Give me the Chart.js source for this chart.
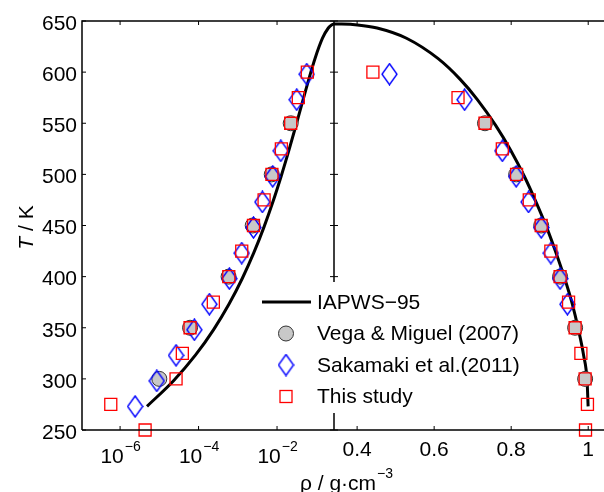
<!DOCTYPE html>
<html lang="en">
<head>
<meta charset="UTF-8" />
<title>Water saturation curve</title>
<script src="https://cdn.jsdelivr.net/npm/chart.js"></script>
<style>
  * { box-sizing: border-box; }
  body { margin: 0; background: #fff; }
  #wrap { position: relative; width: 604px; height: 492px; }
</style>
</head>
<body>
<div id="wrap"><canvas id="chart"></canvas></div>
<script>
// IAPWS-95 saturation curve, T in K, densities in g/cm3
const iapwsT = [273.16, 298.15, 323.15, 348.15, 373.15, 398.15, 423.15, 448.15, 473.15, 498.15,
  523.15, 548.15, 573.15, 593.15, 613.15, 633.15, 643.15, 646.15, 647.0, 647.096];
const iapwsVapor = [4.854e-6, 2.307e-5, 8.315e-5, 2.422e-4, 5.981e-4, 1.2985e-3, 2.548e-3, 4.617e-3, 7.861e-3, 1.274e-2,
  1.995e-2, 3.050e-2, 4.615e-2, 6.456e-2, 9.259e-2, 0.1440, 0.2030, 0.245, 0.285, 0.322];
const iapwsLiquid = [0.99979, 0.99705, 0.98803, 0.97466, 0.95878, 0.93897, 0.91658, 0.89206, 0.86431, 0.83403,
  0.79936, 0.75930, 0.71225, 0.66711, 0.61050, 0.52826, 0.45187, 0.401, 0.3595, 0.322];

// Vega & Miguel (2007)
const vegaT = [300, 350, 400, 450, 500, 550];
const vegaVapor = [1.0e-5, 6.07e-5, 5.82e-4, 2.40e-3, 7.33e-3, 2.23e-2];
const vegaLiquid = [0.992, 0.966, 0.927, 0.878, 0.813, 0.732];

// Sakamaki et al. (2011)
const sakaVaporT = [273, 298, 323, 348, 373, 398, 423, 448, 473, 498, 523, 573, 598];
const sakaVapor = [2.41e-6, 8.61e-6, 2.67e-5, 7.82e-5, 1.88e-4, 6.10e-4, 1.26e-3, 2.51e-3, 4.22e-3, 7.76e-3, 1.245e-2, 3.18e-2, 5.71e-2];
const sakaLiquidT = [373, 398, 423, 448, 473, 498, 523, 573, 598];
const sakaLiquid = [0.946, 0.927, 0.903, 0.878, 0.845, 0.813, 0.777, 0.679, 0.484];

// This study
const thisT = [250, 275, 300, 325, 350, 375, 400, 425, 450, 475, 500, 525, 550, 575, 600];
const thisVapor = [4.34e-6, 5.79e-7, 2.67e-5, 3.86e-5, 6.07e-5, 2.38e-4, 5.89e-4, 1.26e-3, 2.51e-3, 4.68e-3, 7.41e-3, 1.29e-2, 2.23e-2, 3.49e-2, 5.92e-2];
const thisLiquid = [0.993, 0.998, 0.992, 0.981, 0.966, 0.949, 0.927, 0.903, 0.878, 0.847, 0.814, 0.777, 0.732, 0.662, 0.441];

const yTicks = [250, 300, 350, 400, 450, 500, 550, 600, 650];
const logTickExps = [-6, -4, -2];
const linTicks = [0.4, 0.6, 0.8, 1];
const legendLabels = ['IAPWS\u221295', 'Vega & Miguel (2007)', 'Sakamaki et al.(2011)', 'This study'];

const FONT = '"Liberation Sans", Arial, Helvetica, sans-serif';
Chart.defaults.font.family = FONT;
Chart.defaults.font.size = 21;
Chart.defaults.color = '#000';

const pts = (xs, ts) => xs.map((x, i) => ({ x: x, y: ts[i] }));

// tall diamond marker
const diamond = document.createElement('canvas');
diamond.width = 17; diamond.height = 23;
(function () {
  const c = diamond.getContext('2d');
  c.strokeStyle = '#0000ff';
  c.lineWidth = 1.4;
  c.beginPath();
  c.moveTo(8.5, 1); c.lineTo(16, 11.5); c.lineTo(8.5, 22); c.lineTo(1, 11.5); c.closePath();
  c.stroke();
})();

const circleStyle = { pointStyle: 'circle', pointRadius: 7.5, backgroundColor: '#c8c8c8', borderColor: '#333', borderWidth: 1, clip: false, showLine: false, order: 3 };
const diamondStyle = { pointStyle: diamond, pointRadius: 10, borderColor: '#0000ff', clip: false, showLine: false, order: 2 };
const squareStyle = { pointStyle: 'rect', pointRadius: 8.5, backgroundColor: 'rgba(0,0,0,0)', borderColor: '#ff0000', borderWidth: 1.3, clip: false, showLine: false, order: 1 };
const lineStyle = { showLine: true, borderColor: '#000', borderWidth: 3, pointRadius: 0, cubicInterpolationMode: 'monotone', order: 4 };

const frame = {
  id: 'frame',
  afterDatasetsDraw(chart) {
    const { ctx, chartArea: a, scales } = chart;
    const xl = scales.xlog, xr = scales.xlin, y = scales.y;
    const mid = xl.right;
    ctx.save();
    ctx.strokeStyle = '#000';
    ctx.lineWidth = 1.5;
    ctx.beginPath();
    ctx.moveTo(a.left, a.bottom); ctx.lineTo(a.left, a.top); ctx.lineTo(a.right, a.top);
    ctx.moveTo(a.left, a.bottom); ctx.lineTo(a.right, a.bottom);
    ctx.moveTo(mid, a.bottom); ctx.lineTo(mid, a.top);
    ctx.stroke();

    ctx.lineWidth = 1;
    ctx.beginPath();
    y.ticks.forEach(t => {
      const py = y.getPixelForValue(t.value);
      ctx.moveTo(a.left, py); ctx.lineTo(a.left + 4, py);
      ctx.moveTo(mid - 4, py); ctx.lineTo(mid + 4, py);
    });
    [xl, xr].forEach(s => s.ticks.forEach(t => {
      const px = s.getPixelForValue(t.value);
      ctx.moveTo(px, a.bottom); ctx.lineTo(px, a.bottom - 4);
      ctx.moveTo(px, a.top); ctx.lineTo(px, a.top + 4);
    }));
    ctx.stroke();

    // log tick labels with superscript
    ctx.fillStyle = '#000';
    ctx.textBaseline = 'alphabetic';
    ctx.textAlign = 'left';
    logTickExps.forEach(e => {
      const px = xl.getPixelForValue(Math.pow(10, e));
      const base = '10', sup = '\u2212' + Math.abs(e);
      ctx.font = '21px ' + FONT;
      const wb = ctx.measureText(base).width;
      ctx.font = '14px ' + FONT;
      const ws = ctx.measureText(sup).width;
      const x0 = px - (wb + ws) / 2;
      ctx.font = '21px ' + FONT;
      ctx.fillText(base, x0, 463);
      ctx.font = '14px ' + FONT;
      ctx.fillText(sup, x0 + wb + 1, 451);
    });

    // x title
    const xt = '\u03c1 / g\u00b7cm', xs = '\u22123';
    ctx.font = '21px ' + FONT;
    const wxt = ctx.measureText(xt).width;
    ctx.font = '14px ' + FONT;
    const wxs = ctx.measureText(xs).width;
    const xc = (a.left + a.right) / 2 + 3;
    const tx0 = xc - (wxt + wxs) / 2;
    ctx.font = '21px ' + FONT;
    ctx.fillText(xt, tx0, 490);
    ctx.font = '14px ' + FONT;
    ctx.fillText(xs, tx0 + wxt + 1, 478);

    // y title
    ctx.save();
    ctx.translate(33, (a.top + a.bottom) / 2 + 2);
    ctx.rotate(-Math.PI / 2);
    ctx.font = 'italic 21px ' + FONT;
    const wT = ctx.measureText('T').width;
    ctx.font = '21px ' + FONT;
    const wR = ctx.measureText(' / K').width;
    const y0 = -(wT + wR) / 2;
    ctx.font = 'italic 21px ' + FONT;
    ctx.fillText('T', y0, 0);
    ctx.font = '21px ' + FONT;
    ctx.fillText(' / K', y0 + wT, 0);
    ctx.restore();

    // legend
    ctx.fillStyle = '#fff';
    ctx.fillRect(256, 282, 282, 131);
    const rows = [302, 333.5, 365, 396.5];
    const mx = 286;
    ctx.strokeStyle = '#000';
    ctx.lineWidth = 3;
    ctx.beginPath(); ctx.moveTo(262, rows[0]); ctx.lineTo(311, rows[0]); ctx.stroke();
    ctx.beginPath(); ctx.arc(mx, rows[1], 7.5, 0, Math.PI * 2);
    ctx.fillStyle = '#c8c8c8'; ctx.fill();
    ctx.lineWidth = 1; ctx.strokeStyle = '#333'; ctx.stroke();
    ctx.drawImage(diamond, mx - diamond.width / 2, rows[2] - diamond.height / 2);
    ctx.strokeStyle = '#ff0000'; ctx.lineWidth = 1.3;
    ctx.strokeRect(mx - 6, rows[3] - 6, 12, 12);
    ctx.fillStyle = '#000';
    ctx.font = '21px ' + FONT;
    ctx.textBaseline = 'middle';
    legendLabels.forEach((l, i) => ctx.fillText(l, 317, rows[i] + 1));
    ctx.restore();
  }
};

new Chart(document.getElementById('chart'), {
  type: 'scatter',
  data: {
    datasets: [
      Object.assign({ label: 'IAPWS-95 vapour', data: pts(iapwsVapor, iapwsT), xAxisID: 'xlog', yAxisID: 'y' }, lineStyle),
      Object.assign({ label: 'IAPWS-95 liquid', data: pts(iapwsLiquid, iapwsT), xAxisID: 'xlin', yAxisID: 'y' }, lineStyle),
      Object.assign({ label: 'Vega vapour', data: pts(vegaVapor, vegaT), xAxisID: 'xlog', yAxisID: 'y' }, circleStyle),
      Object.assign({ label: 'Vega liquid', data: pts(vegaLiquid, vegaT), xAxisID: 'xlin', yAxisID: 'y' }, circleStyle),
      Object.assign({ label: 'Sakamaki vapour', data: pts(sakaVapor, sakaVaporT), xAxisID: 'xlog', yAxisID: 'y' }, diamondStyle),
      Object.assign({ label: 'Sakamaki liquid', data: pts(sakaLiquid, sakaLiquidT), xAxisID: 'xlin', yAxisID: 'y' }, diamondStyle),
      Object.assign({ label: 'This study vapour', data: pts(thisVapor, thisT), xAxisID: 'xlog', yAxisID: 'y' }, squareStyle),
      Object.assign({ label: 'This study liquid', data: pts(thisLiquid, thisT), xAxisID: 'xlin', yAxisID: 'y' }, squareStyle)
    ]
  },
  options: {
    responsive: true,
    maintainAspectRatio: false,
    animation: false,
    events: [],
    layout: { autoPadding: false, padding: { left: 0, top: 21, right: 0, bottom: 0 } },
    plugins: { legend: { display: false }, tooltip: { enabled: false } },
    scales: {
      y: {
        type: 'linear', position: 'left', min: 250, max: 650,
        afterBuildTicks: s => { s.ticks = yTicks.map(v => ({ value: v })); },
        ticks: { padding: 5, labelOffset: 3 },
        grid: { display: false, drawTicks: false },
        border: { display: false },
        afterFit: s => { s.width = 82; s.paddingTop = 0; s.paddingBottom = 0; }
      },
      xlog: {
        type: 'logarithmic', axis: 'x', position: 'bottom', stack: 'x', stackWeight: 252,
        min: 1.07e-7, max: 0.283,
        afterBuildTicks: s => { s.ticks = logTickExps.map(e => ({ value: Math.pow(10, e) })); },
        ticks: { callback: () => '' },
        grid: { display: false, drawTicks: false },
        border: { display: false },
        afterFit: s => { s.height = 62; s.paddingLeft = 0; s.paddingRight = 0; }
      },
      xlin: {
        type: 'linear', axis: 'x', position: 'bottom', stack: 'x', stackWeight: 270,
        min: 0.34, max: 1.041,
        afterBuildTicks: s => { s.ticks = linTicks.map(v => ({ value: v })); },
        ticks: { padding: 8, callback: v => String(v) },
        grid: { display: false, drawTicks: false },
        border: { display: false },
        afterFit: s => { s.height = 62; s.paddingLeft = 0; s.paddingRight = 0; }
      }
    }
  },
  plugins: [frame]
});
</script>
</body>
</html>
